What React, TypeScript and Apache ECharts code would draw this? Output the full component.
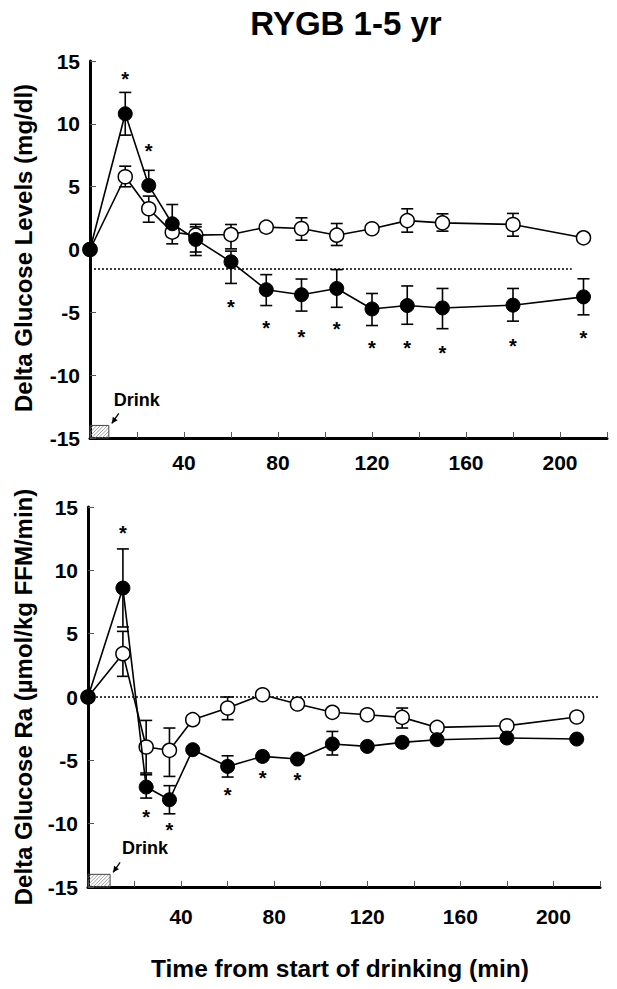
import React, { useEffect, useRef } from "react";
import * as echarts from "echarts";

const FONT = "'Liberation Sans', Arial, sans-serif";

// Time points (min)
const times = [0, 15, 25, 35, 45, 60, 75, 90, 105, 120, 135, 150, 180, 210];

// Top panel: Delta Glucose Levels (mg/dl)
const gluFilled = [0, 10.8, 5.1, 2.05, 0.8, -0.98, -3.2, -3.6, -3.1, -4.73, -4.46, -4.65, -4.43, -3.77];
const gluFilledHi = [null, 12.5, 6.3, 3.58, 2.0, -0.13, -2.0, -2.35, -1.6, -3.5, -2.9, -3.1, -3.1, -2.33];
const gluFilledLo = [null, 9.1, null, null, -0.48, -2.7, -4.46, -4.9, -4.6, -6.05, -5.95, -6.3, -5.7, -5.2];
const gluOpen = [0, 5.79, 3.24, 1.38, 1.14, 1.19, 1.78, 1.67, 1.14, 1.65, 2.3, 2.12, 1.99, 0.93];
const gluOpenHi = [null, 6.63, 4.25, null, 1.8, 1.99, null, 2.52, 2.07, null, 3.24, 2.84, 2.87, null];
const gluOpenLo = [null, 4.99, 2.17, 0.45, -0.2, 0.05, null, 0.74, 0.32, null, 1.38, 1.46, 1.06, null];
const gluStarT = [15, 25, 60, 75, 90, 105, 120, 135, 150, 180, 210];
const gluStarV = [13.75, 7.96, -4.38, -6.1, -6.8, -6.2, -7.7, -7.65, -8.1, -7.5, -6.9];
const gluBaseline = [[0, -1.55], [205, -1.55]];
const gluDrink = [[0, 8, -15, -14]];

// Bottom panel: Delta Glucose Ra (umol/kg FFM/min)
const raFilled = [0, 8.6, -7.11, -8.11, -4.16, -5.48, -4.69, -4.9, -3.71, -3.9, -3.58, -3.37, -3.24, -3.32];
const raFilledHi = [null, 11.69, -6.14, -7.0, null, -4.64, null, null, -2.72, null, null, null, null, null];
const raFilledLo = [null, 5.53, -7.98, -9.22, null, -6.32, null, null, -4.58, null, null, null, null, null];
const raOpen = [0, 3.42, -3.95, -4.21, -1.79, -0.87, 0.18, -0.55, -1.21, -1.4, -1.61, -2.4, -2.27, -1.58];
const raOpenHi = [null, 5.18, -1.85, -2.45, null, 0.0, null, null, null, null, -0.87, null, null, null];
const raOpenLo = [null, 1.63, -6.0, -6.27, null, -1.79, null, null, null, null, -2.45, null, null, null];
const raStarT = [15, 25, 35, 60, 75, 90];
const raStarV = [13.1, -9.3, -10.35, -7.58, -6.2, -6.4];
const raBaseline = [[0, 0], [220, 0]];
const raDrink = [[0, 9.5, -15, -14]];

const xTicks = [40, 80, 120, 160, 200];

function pairs(vals: number[]) {
  return times.map((t, i) => [t, vals[i]]);
}

function errItems(vals: number[], hi: (number | null)[], lo: (number | null)[]) {
  const out: number[][] = [];
  times.forEach((t, i) => {
    if (hi[i] != null) out.push([t, vals[i], hi[i] as number]);
    if (lo[i] != null) out.push([t, vals[i], lo[i] as number]);
  });
  return out;
}

const errRender = (params: any, api: any) => {
  const p0 = api.coord([api.value(0), api.value(1)]);
  const p1 = api.coord([api.value(0), api.value(2)]);
  const st = { stroke: "#000", lineWidth: 1.6 };
  return {
    type: "group",
    children: [
      { type: "line", shape: { x1: p0[0], y1: p0[1], x2: p1[0], y2: p1[1] }, style: st },
      { type: "line", shape: { x1: p1[0] - 6, y1: p1[1], x2: p1[0] + 6, y2: p1[1] }, style: st },
    ],
  };
};

const starRender = (params: any, api: any) => {
  const p = api.coord([api.value(0), api.value(1)]);
  return {
    type: "text",
    x: p[0],
    y: p[1] + 2,
    style: { text: "*", font: `bold 20px ${FONT}`, fill: "#000", align: "center", verticalAlign: "middle" },
  };
};

const drinkRender = (ldx: number, ldy: number) => (params: any, api: any) => {
  const a = api.coord([api.value(0), api.value(2)]);
  const b = api.coord([api.value(1), api.value(3)]);
  const x0 = a[0];
  const y0 = b[1];
  const w = b[0] - a[0];
  const h = a[1] - b[1];
  const children: any[] = [];
  const step = 3.5;
  for (let c = -h; c < w; c += step) {
    let sx = x0 + c, sy = y0 + h;
    if (c < 0) { sx = x0; sy = y0 + h + c; }
    let ex = x0 + c + h, ey = y0;
    if (c + h > w) { ex = x0 + w; ey = y0 + (c + h - w); }
    children.push({ type: "line", shape: { x1: sx, y1: sy, x2: ex, y2: ey }, style: { stroke: "#888", lineWidth: 0.8 } });
  }
  children.push({ type: "rect", shape: { x: x0, y: y0, width: w, height: h }, style: { fill: "none", stroke: "#444", lineWidth: 1 } });
  const rx = b[0], ty = b[1];
  children.push({
    type: "text", x: rx + ldx, y: ty + ldy,
    style: { text: "Drink", font: `bold 18px ${FONT}`, fill: "#000", align: "left", verticalAlign: "middle" },
  });
  const ax1 = rx + 10, ay1 = ty - 12, ax2 = rx + 3, ay2 = ty - 2;
  children.push({ type: "line", shape: { x1: ax1, y1: ay1, x2: ax2, y2: ay2 }, style: { stroke: "#000", lineWidth: 1.3 } });
  const dx = ax2 - ax1, dy = ay2 - ay1, L = Math.hypot(dx, dy);
  const ux = dx / L, uy = dy / L;
  children.push({
    type: "polygon",
    shape: { points: [[ax2, ay2], [ax2 - ux * 6 - uy * 3, ay2 - uy * 6 + ux * 3], [ax2 - ux * 6 + uy * 3, ay2 - uy * 6 - ux * 3]] },
    style: { fill: "#000" },
  });
  return { type: "group", children };
};

function xAxisCfg(gi: number) {
  return {
    type: "value", gridIndex: gi, min: 0, max: 220, interval: 20,
    axisLine: { onZero: false, lineStyle: { color: "#000", width: 3 } },
    axisTick: { inside: true, length: 6, lineStyle: { color: "#555", width: 1 } },
    axisLabel: {
      formatter: (v: number) => (xTicks.includes(v) ? String(v) : ""),
      fontSize: 21, fontWeight: "bold", color: "#000", fontFamily: FONT, margin: gi === 0 ? 14 : 19,
    },
    splitLine: { show: false },
  };
}

function yAxisCfg(gi: number) {
  return {
    type: "value", gridIndex: gi, min: -15, max: 15, interval: 5,
    axisLine: { show: true, onZero: false, lineStyle: { color: "#000", width: 3 } },
    axisTick: { show: true, inside: true, length: 6, lineStyle: { color: "#555", width: 1 } },
    axisLabel: { fontSize: 21, fontWeight: "bold", color: "#000", fontFamily: FONT, margin: 10 },
    splitLine: { show: false },
  };
}

function panelSeries(gi: number, filled: number[], fHi: any[], fLo: any[], open: number[], oHi: any[], oLo: any[], starT: number[], starV: number[], baseline: number[][], drink: number[][], ldx: number, ldy: number) {
  return [
    {
      type: "line", xAxisIndex: gi, yAxisIndex: gi, data: baseline, symbol: "none",
      lineStyle: { color: "#000", width: 1.5, type: [2, 2] }, z: 1,
    },
    { type: "custom", xAxisIndex: gi, yAxisIndex: gi, data: errItems(open, oHi, oLo), renderItem: errRender, z: 2 },
    { type: "custom", xAxisIndex: gi, yAxisIndex: gi, data: errItems(filled, fHi, fLo), renderItem: errRender, z: 2 },
    {
      type: "line", xAxisIndex: gi, yAxisIndex: gi, data: pairs(open), symbol: "circle", symbolSize: 14,
      lineStyle: { color: "#000", width: 1.6 }, itemStyle: { color: "#fff", borderColor: "#000", borderWidth: 1.5 }, z: 3,
    },
    {
      type: "line", xAxisIndex: gi, yAxisIndex: gi, data: pairs(filled), symbol: "circle", symbolSize: 14,
      lineStyle: { color: "#000", width: 1.6 }, itemStyle: { color: "#000", borderColor: "#000", borderWidth: 1 }, z: 4,
    },
    {
      type: "custom", xAxisIndex: gi, yAxisIndex: gi, data: starT.map((t, i) => [t, starV[i]]), renderItem: starRender, z: 5,
    },
    {
      type: "custom", xAxisIndex: gi, yAxisIndex: gi, data: drink, renderItem: drinkRender(ldx, ldy), z: 5, clip: false,
    },
  ];
}

export default function App() {
  const ref = useRef<HTMLDivElement>(null);
  useEffect(() => {
    if (!ref.current) return;
    const chart = echarts.init(ref.current, undefined, { renderer: "svg" });
    chart.setOption({
      animation: false,
      backgroundColor: "#fff",
      grid: [
        { left: 90, top: 61, width: 517, height: 377 },
        { left: 88, top: 507, width: 512, height: 380 },
      ],
      xAxis: [xAxisCfg(0), xAxisCfg(1)],
      yAxis: [yAxisCfg(0), yAxisCfg(1)],
      graphic: [
        {
          type: "text", x: 346, y: 23,
          style: { text: "RYGB 1-5 yr", font: `bold 33px ${FONT}`, fill: "#000", align: "center", verticalAlign: "middle" },
        },
        {
          type: "text", x: 23, y: 248, rotation: Math.PI / 2,
          style: { text: "Delta Glucose Levels (mg/dl)", font: `bold 24px ${FONT}`, fill: "#000", align: "center", verticalAlign: "middle" },
        },
        {
          type: "text", x: 23, y: 697, rotation: Math.PI / 2,
          style: { text: "Delta Glucose Ra (\u00b5mol/kg FFM/min)", font: `bold 24px ${FONT}`, fill: "#000", align: "center", verticalAlign: "middle" },
        },
        {
          type: "text", x: 340, y: 968,
          style: { text: "Time from start of drinking (min)", font: `bold 24.5px ${FONT}`, fill: "#000", align: "center", verticalAlign: "middle" },
        },
      ],
      series: [
        ...panelSeries(0, gluFilled, gluFilledHi, gluFilledLo, gluOpen, gluOpenHi, gluOpenLo, gluStarT, gluStarV, gluBaseline, gluDrink, 5, -25),
        ...panelSeries(1, raFilled, raFilledHi, raFilledLo, raOpen, raOpenHi, raOpenLo, raStarT, raStarV, raBaseline, raDrink, 12, -26),
      ],
    });
    return () => chart.dispose();
  }, []);
  return (
    <div
      ref={ref}
      style={{ position: "absolute", left: 0, top: 0, width: 617, height: 989, background: "#fff" }}
    />
  );
}
